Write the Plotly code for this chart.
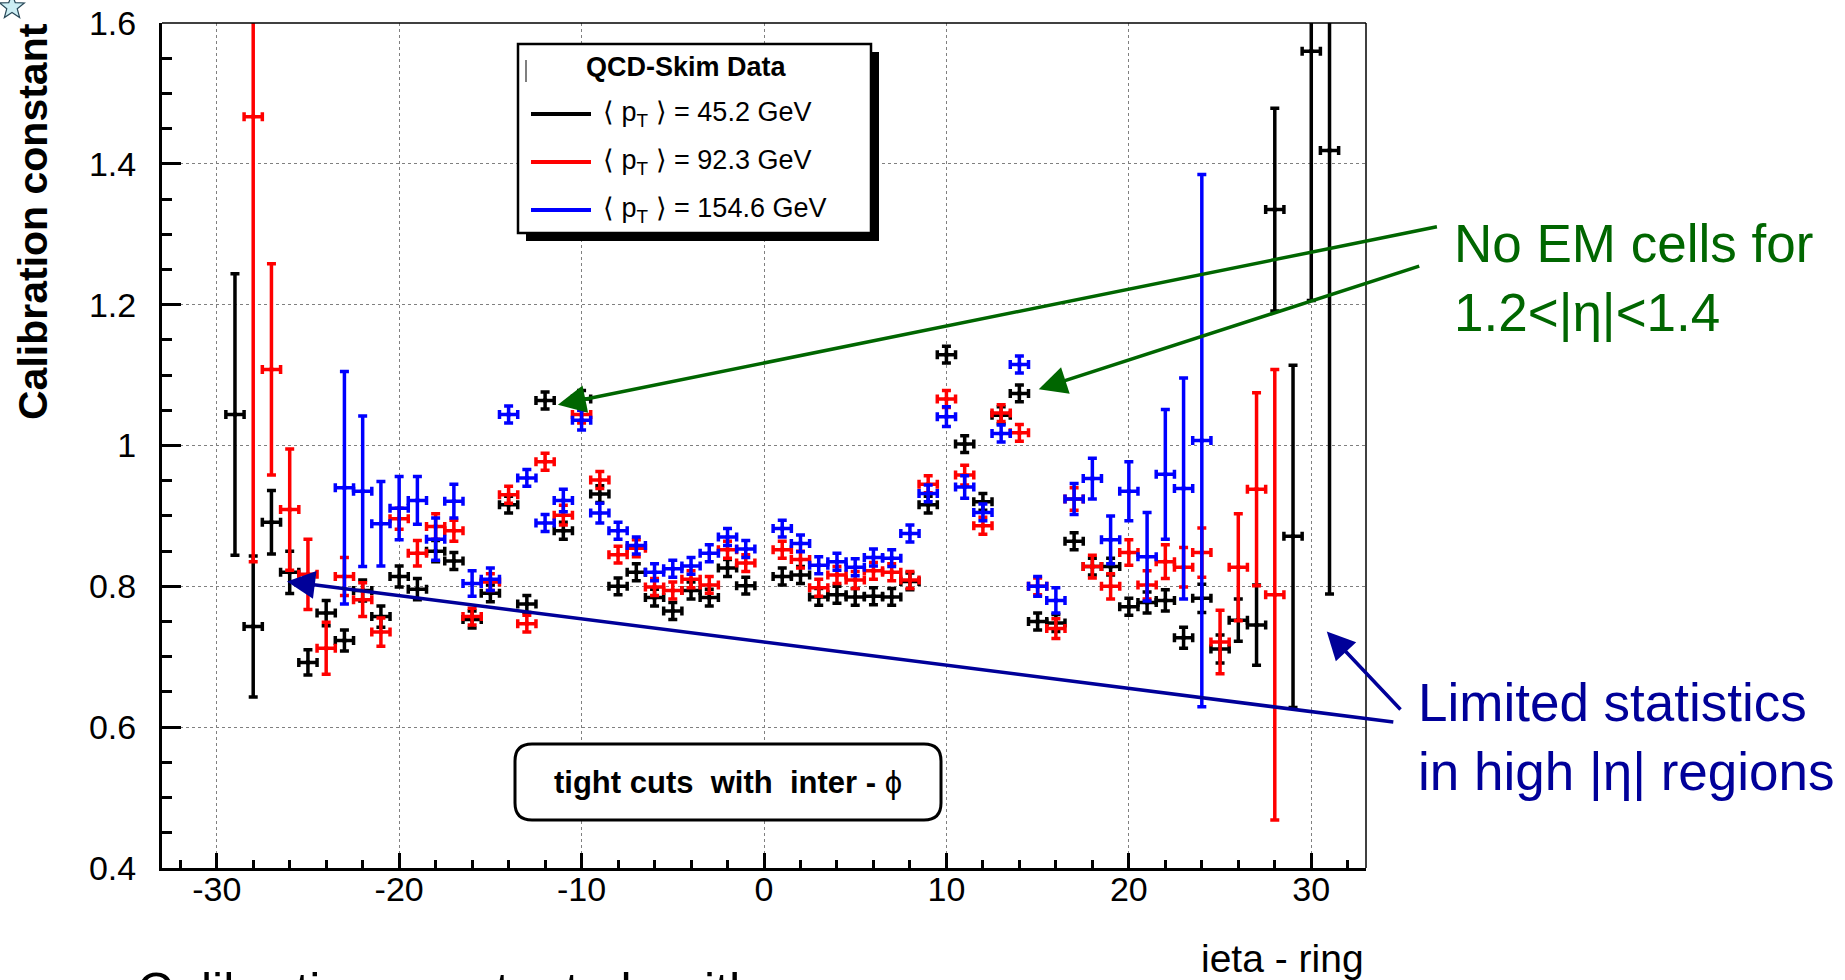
import math
import plotly.graph_objects as go

# ---------------- data ----------------
ieta_45 = list(range(-29, 0)) + list(range(1, 32))
cal_45 = [1.044, 0.743, 0.891, 0.820, 0.692, 0.762, 0.723, 0.794, 0.757, 0.814,
          0.796, 0.850, 0.836, 0.753, 0.790, 0.916, 0.775, 1.064, 0.879, 1.066,
          0.931, 0.800, 0.820, 0.784, 0.765, 0.794, 0.784, 0.826, 0.801,
          0.814, 0.816, 0.785, 0.788, 0.785, 0.786, 0.785, 0.807, 0.916, 1.129,
          1.002, 0.920, 1.043, 1.074, 0.750, 0.748, 0.864, 0.828, 0.828, 0.771,
          0.777, 0.780, 0.727, 0.783, 0.711, 0.752, 0.745, 1.335, 0.871, 1.560, 1.419]
err_45 = [0.200, 0.100, 0.045, 0.030, 0.018, 0.018, 0.015, 0.015, 0.015, 0.015,
          0.015, 0.015, 0.012, 0.012, 0.012, 0.012, 0.012, 0.012, 0.012, 0.012,
          0.012, 0.012, 0.012, 0.012, 0.012, 0.012, 0.012, 0.012, 0.012,
          0.012, 0.012, 0.012, 0.012, 0.012, 0.012, 0.012, 0.012, 0.012, 0.012,
          0.012, 0.012, 0.012, 0.012, 0.012, 0.012, 0.012, 0.012, 0.012, 0.012,
          0.015, 0.015, 0.015, 0.020, 0.020, 0.030, 0.057, 0.144, 0.243, 0.354, 0.630]

ieta_92 = list(range(-28, 0)) + list(range(1, 29))
cal_92 = [1.467, 1.108, 0.909, 0.817, 0.712, 0.814, 0.781, 0.735, 0.896, 0.847,
          0.885, 0.879, 0.757, 0.806, 0.930, 0.747, 0.977, 0.901, 1.044, 0.951,
          0.845, 0.854, 0.799, 0.794, 0.810, 0.802, 0.852, 0.833,
          0.852, 0.838, 0.798, 0.816, 0.809, 0.822, 0.820, 0.809, 0.945, 1.066,
          0.958, 0.886, 1.046, 1.018, 0.800, 0.740, 0.924, 0.828, 0.800, 0.848,
          0.802, 0.835, 0.827, 0.848, 0.721, 0.827, 0.938, 0.788]
err_92 = [0.632, 0.150, 0.086, 0.050, 0.037, 0.027, 0.024, 0.020, 0.015, 0.018,
          0.018, 0.015, 0.012, 0.012, 0.012, 0.012, 0.012, 0.014, 0.012, 0.012,
          0.012, 0.012, 0.012, 0.012, 0.012, 0.012, 0.012, 0.012,
          0.012, 0.012, 0.012, 0.012, 0.012, 0.012, 0.012, 0.012, 0.012, 0.012,
          0.014, 0.012, 0.012, 0.012, 0.012, 0.014, 0.016, 0.016, 0.018, 0.018,
          0.020, 0.024, 0.028, 0.035, 0.045, 0.076, 0.137, 0.320]

ieta_155 = list(range(-23, 0)) + list(range(1, 25))
cal_155 = [0.940, 0.935, 0.889, 0.911, 0.922, 0.867, 0.921, 0.804, 0.810, 1.044,
           0.954, 0.890, 0.922, 1.036, 0.904, 0.879, 0.858, 0.820, 0.825, 0.829,
           0.847, 0.870, 0.853,
           0.882, 0.861, 0.830, 0.835, 0.827, 0.841, 0.840, 0.875, 0.932, 1.041,
           0.941, 0.905, 1.017, 1.115, 0.800, 0.780, 0.924, 0.953, 0.866, 0.935,
           0.842, 0.959, 0.939, 1.007]
err_155 = [0.165, 0.107, 0.060, 0.045, 0.034, 0.030, 0.024, 0.018, 0.016, 0.012,
           0.012, 0.012, 0.016, 0.014, 0.014, 0.012, 0.012, 0.012, 0.012, 0.012,
           0.012, 0.012, 0.012,
           0.012, 0.012, 0.012, 0.012, 0.012, 0.012, 0.012, 0.012, 0.012, 0.014,
           0.016, 0.012, 0.012, 0.012, 0.014, 0.018, 0.022, 0.029, 0.034, 0.042,
           0.063, 0.092, 0.157, 0.378]

ring_halfwidth = 0.5

series_names = ["\u27e8 p<sub>T</sub> \u27e9 = 45.2 GeV",
                "\u27e8 p<sub>T</sub> \u27e9 = 92.3 GeV",
                "\u27e8 p<sub>T</sub> \u27e9 = 154.6 GeV"]
series_colors = ["#000000", "#ff0000", "#0000ff"]
legend_title = "QCD-Skim Data"

x_tickvals = [-30, -20, -10, 0, 10, 20, 30]
x_ticktext = ["-30", "-20", "-10", "0", "10", "20", "30"]
y_tickvals = [0.4, 0.6, 0.8, 1.0, 1.2, 1.4, 1.6]
y_ticktext = ["0.4", "0.6", "0.8", "1", "1.2", "1.4", "1.6"]

# ---------------- layout geometry ----------------
W, H = 1845, 980
ML, MR, MT, MB = 162, 479, 23, 112
PW, PH = W - ML - MR, H - MT - MB
FONT = "Liberation Sans, Arial, Helvetica, sans-serif"


def fx(px):
    return (px - ML) / PW


def fy(py):
    return (H - MB - py) / PH


fig = go.Figure()

for xs, ys, es, name, col in [(ieta_45, cal_45, err_45, series_names[0], series_colors[0]),
                              (ieta_92, cal_92, err_92, series_names[1], series_colors[1]),
                              (ieta_155, cal_155, err_155, series_names[2], series_colors[2])]:
    fig.add_trace(go.Scatter(
        x=xs, y=ys, mode="markers", name=name, showlegend=False,
        marker=dict(size=4, color=col, symbol="square"),
        error_x=dict(type="constant", value=ring_halfwidth, color=col, thickness=3.5, width=4.5),
        error_y=dict(type="data", array=es, color=col, thickness=3.5, width=4.5),
    ))

shapes = []
annotations = []

# frame: thin top and right lines
shapes.append(dict(type="line", xref="paper", yref="paper", x0=0, x1=1, y0=1, y1=1,
                   line=dict(color="black", width=1.5), layer="above"))
shapes.append(dict(type="line", xref="paper", yref="paper", x0=1, x1=1, y0=0, y1=1,
                   line=dict(color="black", width=1.5), layer="above"))

# ---- legend box (ROOT style, with shadow) ----
lx0, ly0, lx1, ly1 = 518, 44, 871, 233
sh = 8
shapes.append(dict(type="rect", xref="paper", yref="paper",
                   x0=fx(lx0 + sh), x1=fx(lx1 + sh), y0=fy(ly0 + sh), y1=fy(ly1 + sh),
                   fillcolor="black", line=dict(width=0), layer="above"))
shapes.append(dict(type="rect", xref="paper", yref="paper",
                   x0=fx(lx0), x1=fx(lx1), y0=fy(ly0), y1=fy(ly1),
                   fillcolor="white", line=dict(color="black", width=2.5), layer="above"))
shapes.append(dict(type="line", xref="paper", yref="paper",
                   x0=fx(526), x1=fx(526), y0=fy(60), y1=fy(82),
                   line=dict(color="#555555", width=1.5), layer="above"))
annotations.append(dict(xref="paper", yref="paper", x=fx(686), y=fy(67),
                        text="<b>" + legend_title + "</b>", showarrow=False,
                        xanchor="center", yanchor="middle",
                        font=dict(family=FONT, size=27, color="black")))
entry_y = [114, 162, 210]
for name, col, ey in zip(series_names, series_colors, entry_y):
    shapes.append(dict(type="line", xref="paper", yref="paper",
                       x0=fx(531), x1=fx(591), y0=fy(ey), y1=fy(ey),
                       line=dict(color=col, width=4), layer="above"))
    annotations.append(dict(xref="paper", yref="paper", x=fx(601), y=fy(ey),
                            text=name, showarrow=False, xanchor="left", yanchor="middle",
                            font=dict(family=FONT, size=27, color="black")))

# ---- "tight cuts with inter-phi" rounded box ----
bx0, by0, bx1, by1, r = 515, 744, 941, 820, 17
path = ("M {a},{b} L {c},{b} Q {d},{b} {d},{e} L {d},{f} Q {d},{g} {c},{g} "
        "L {a},{g} Q {h},{g} {h},{f} L {h},{e} Q {h},{b} {a},{b} Z").format(
    a=fx(bx0 + r), c=fx(bx1 - r), d=fx(bx1), h=fx(bx0),
    b=fy(by0), e=fy(by0 + r), f=fy(by1 - r), g=fy(by1))
shapes.append(dict(type="path", xref="paper", yref="paper", path=path,
                   fillcolor="white", line=dict(color="black", width=3), layer="above"))
annotations.append(dict(xref="paper", yref="paper", x=fx(728), y=fy(782),
                        text="<b>tight cuts\u00a0\u00a0with\u00a0\u00a0inter\u00a0-\u00a0</b>\u03d5",
                        showarrow=False, xanchor="center", yanchor="middle",
                        font=dict(family=FONT, size=31, color="black")))

# ---- star icon in the corner ----
pts = []
for k in range(10):
    ang = math.pi / 2 + k * math.pi / 5
    rad = 13 if k % 2 == 0 else 5.5
    pts.append((12 + rad * math.cos(ang), 7 - rad * math.sin(ang)))
star = "M " + " L ".join("{:.5f},{:.5f}".format(fx(p[0]), fy(p[1])) for p in pts) + " Z"
shapes.append(dict(type="path", xref="paper", yref="paper", path=star,
                   fillcolor="#cdeef4", line=dict(color="#2a4a5a", width=1.2), layer="above"))

# ---- axis titles ----
annotations.append(dict(xref="paper", yref="paper", x=fx(33), y=fy(222),
                        text="<b>Calibration constant</b>", textangle=-90, showarrow=False,
                        xanchor="center", yanchor="middle",
                        font=dict(family=FONT, size=41, color="black")))
annotations.append(dict(xref="paper", yref="paper", x=fx(1366), y=fy(958),
                        text="ieta - ring", showarrow=False, xanchor="right", yanchor="middle",
                        font=dict(family=FONT, size=39, color="black")))

# ---- callouts ----
GREEN = "#006600"
NAVY = "#000099"
annotations.append(dict(xref="paper", yref="paper", x=fx(1452), y=fy(278),
                        text="No EM cells for<br>1.2&lt;|\u03b7|&lt;1.4", align="left",
                        showarrow=False, xanchor="left", yanchor="middle",
                        font=dict(family=FONT, size=53, color=GREEN)))
annotations.append(dict(xref="paper", yref="paper", x=fx(1416), y=fy(737),
                        text="Limited statistics<br>in high |\u03b7| regions", align="left",
                        showarrow=False, xanchor="left", yanchor="middle",
                        font=dict(family=FONT, size=53, color=NAVY)))

arrows = [((-11.3, 1.058), (36.97, 1.311), GREEN),
          ((15.06, 1.080), (36.0, 1.2555), GREEN),
          ((-26.15, 0.807), (34.58, 0.607), NAVY),
          ((30.85, 0.736), (34.97, 0.623), NAVY)]
for (hx, hy), (tx, ty), col in arrows:
    annotations.append(dict(x=hx, y=hy, ax=tx, ay=ty, xref="x", yref="y", axref="x", ayref="y",
                            text="", showarrow=True, arrowhead=2, arrowsize=1.6,
                            arrowwidth=3.5, arrowcolor=col, standoff=0))

# ---- slide text cut off at the bottom ----
annotations.append(dict(xref="paper", yref="paper", x=fx(135), y=fy(961),
                        text="Calibration constant algorithm", showarrow=False,
                        xanchor="left", yanchor="top",
                        font=dict(family=FONT, size=50, color="black")))

fig.update_layout(
    template="none",
    width=W, height=H,
    margin=dict(l=ML, r=MR, t=MT, b=MB, pad=0, autoexpand=False),
    paper_bgcolor="white", plot_bgcolor="white",
    font=dict(family=FONT, color="black"),
    showlegend=False,
    shapes=shapes, annotations=annotations,
    xaxis=dict(range=[-33, 33], tickvals=x_tickvals, ticktext=x_ticktext, ticks="inside",
               ticklen=15, tickwidth=3, tickcolor="black", showline=True, linewidth=3,
               linecolor="black", mirror=False, automargin=False,
               showgrid=True, gridcolor="#808080", gridwidth=1.3, griddash="dot",
               zeroline=False, tickfont=dict(size=34, family=FONT, color="black"),
               ticklabelstandoff=-11,
               minor=dict(dtick=2, tick0=0, ticks="inside", ticklen=8, tickwidth=3,
                          tickcolor="black", showgrid=False)),
    yaxis=dict(range=[0.4, 1.6], tickvals=y_tickvals, ticktext=y_ticktext, ticks="inside",
               ticklen=19, tickwidth=3, tickcolor="black", showline=True, linewidth=3,
               linecolor="black", mirror=False, automargin=False,
               showgrid=True, gridcolor="#808080", gridwidth=1.3,
               griddash="dot", zeroline=False, tickfont=dict(size=34, family=FONT, color="black"),
               ticklabelstandoff=16,
               minor=dict(dtick=0.05, tick0=0, ticks="inside", ticklen=10, tickwidth=3,
                          tickcolor="black", showgrid=False)),
)

fig.write_html("out.html")
